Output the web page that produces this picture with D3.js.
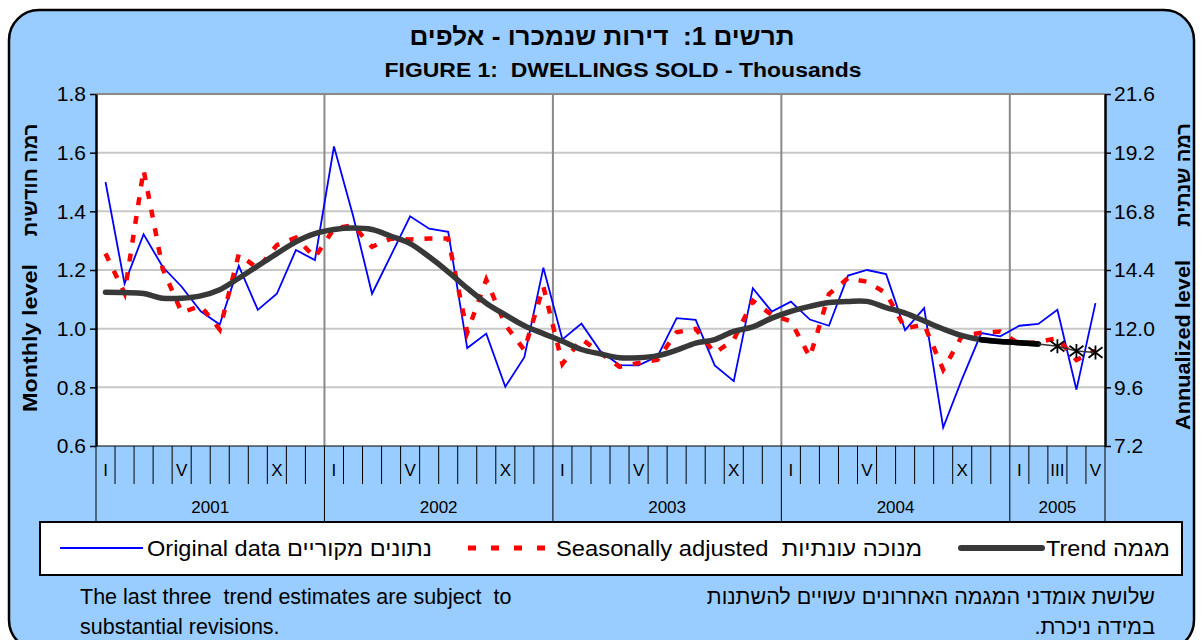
<!DOCTYPE html>
<html><head><meta charset="utf-8">
<script src="https://cdn.jsdelivr.net/npm/d3@7"></script>
<style>
body{margin:0;background:#fff}
svg{display:block}
text{font-family:"Liberation Sans",Arial,"DejaVu Sans",sans-serif;white-space:pre}
</style>
</head><body>
<svg id="c" width="1202" height="640"></svg>
<script>
// ---- data ----
const years = ["2001","2002","2003","2004","2005"];
const monthsPerYear = [12,12,12,12,5];
const monthMarks = ["I","","","","V","","","","","X","",""];
const monthMarks2005 = ["I","","III","","V"];
const leftTicks = [0.6,0.8,1.0,1.2,1.4,1.6,1.8];
const rightTicks = [7.2,9.6,12.0,14.4,16.8,19.2,21.6];

const original = [
 1.500,1.153,1.322,1.211,1.143,1.059,1.014,1.214,1.064,1.119,1.268,1.234,
 1.621,1.386,1.119,1.251,1.383,1.341,1.330,0.934,0.983,0.802,0.903,1.208,
 0.963,1.017,0.923,0.876,0.875,0.906,1.036,1.030,0.875,0.821,1.138,1.058,
 1.092,1.031,1.010,1.181,1.200,1.186,0.995,1.070,0.663,0.830,0.985,0.974,
 1.010,1.016,1.064,0.792,1.087];
const seasonallyAdjusted = [
 1.256,1.121,1.541,1.205,1.055,1.078,0.997,1.254,1.205,1.285,1.310,1.243,
 1.341,1.353,1.279,1.307,1.304,1.307,1.307,0.987,1.167,1.013,0.927,1.143,
 0.880,0.965,0.917,0.870,0.883,0.894,0.988,0.999,0.917,0.962,1.095,1.047,
 1.025,0.903,1.118,1.172,1.160,1.121,1.001,1.014,0.860,0.976,0.986,0.990,
 0.948,0.954,0.968,0.893,0.925];
const trend = [
 1.124,1.123,1.120,1.104,1.104,1.112,1.133,1.172,1.214,1.256,1.296,1.324,
 1.338,1.343,1.338,1.315,1.290,1.245,1.194,1.138,1.087,1.047,1.010,0.983,
 0.957,0.929,0.914,0.901,0.901,0.908,0.927,0.951,0.963,0.991,1.006,1.036,
 1.059,1.076,1.089,1.093,1.093,1.072,1.053,1.026,0.999,0.976,0.962,0.956,
 0.952,0.948];
const trendProvisional = [0.940,0.924,0.919];

// ---- layout ----
const svg = d3.select("#c");
const L=96, R=1105, T=94, B=446;
const nMonths = d3.sum(monthsPerYear);

svg.append("rect").attr("x",9).attr("y",10).attr("width",1185).attr("height",640)
  .attr("rx",30).attr("fill","#99CCFF").attr("stroke","#000").attr("stroke-width",2.5);

const x = d3.scaleBand().domain(d3.range(nMonths)).range([L,R]).padding(0);
const cx = i => x(i) + x.bandwidth()/2;
const xb = k => k >= nMonths ? R : x(k);
const y = d3.scaleLinear().domain([0.6,1.8]).range([B,T]);
const yR = d3.scaleLinear().domain([7.2,21.6]).range([B,T]);

svg.append("rect").attr("x",L).attr("y",T).attr("width",R-L).attr("height",B-T).attr("fill","#fff");

// grid
svg.append("g").selectAll("line").data(leftTicks.slice(1)).join("line")
  .attr("x1",L).attr("x2",R).attr("y1",d=>y(d)).attr("y2",d=>y(d))
  .attr("stroke",d=>d===1.8?"#8a8a8a":"#c8c8c8").attr("stroke-width",2);

const yearStarts = monthsPerYear.map((m,i)=>d3.sum(monthsPerYear.slice(0,i)));
svg.append("g").selectAll("line").data(yearStarts.slice(1)).join("line")
  .attr("x1",d=>xb(d)).attr("x2",d=>xb(d)).attr("y1",T).attr("y2",B)
  .attr("stroke","#8a8a8a").attr("stroke-width",2);

// month / year strip
const boundaries = d3.range(nMonths+1);
const yearBounds = new Set([...yearStarts, nMonths]);
svg.append("g").selectAll("line").data(boundaries).join("line")
  .attr("x1",d=>xb(d)).attr("x2",d=>xb(d)).attr("y1",B)
  .attr("y2",d=>yearBounds.has(d)?522:484)
  .attr("stroke","#000").attr("stroke-width",1);
svg.append("line").attr("x1",L).attr("x2",R).attr("y1",B).attr("y2",B).attr("stroke","#000").attr("stroke-width",1.2);

const marks = [];
years.forEach((yr,yi)=>{
  const arr = yi===4 ? monthMarks2005 : monthMarks;
  arr.forEach((m,mi)=>{ if(m) marks.push({i:yearStarts[yi]+mi, t:m}); });
});
svg.append("g").selectAll("text").data(marks).join("text")
  .attr("x",d=>cx(d.i)).attr("y",476).attr("text-anchor","middle")
  .attr("font-size",17).attr("fill","#000").text(d=>d.t);

svg.append("g").selectAll("text").data(years).join("text")
  .attr("x",(d,i)=>(xb(yearStarts[i])+xb(yearStarts[i]+monthsPerYear[i]))/2)
  .attr("y",513).attr("text-anchor","middle").attr("font-size",17).attr("fill","#000").text(d=>d);

// axes
const ax = svg.append("g").attr("transform",`translate(${L},0)`)
  .call(d3.axisLeft(y).tickValues(leftTicks).tickFormat(d3.format(".1f")).tickSize(6).tickSizeOuter(0).tickPadding(4));
const axR = svg.append("g").attr("transform",`translate(${R},0)`)
  .call(d3.axisRight(yR).tickValues(rightTicks).tickFormat(d3.format(".1f")).tickSize(6).tickSizeOuter(0).tickPadding(3));
[ax,axR].forEach(g=>{
  g.select(".domain").attr("stroke","#000").attr("stroke-width",2.5);
  g.selectAll(".tick line").attr("stroke","#000").attr("stroke-width",1.5);
  g.selectAll(".tick text").attr("font-size",21).attr("fill","#000")
    .attr("font-family","'Liberation Sans',Arial,sans-serif");
});

// series
const line = d3.line().x((d,i)=>cx(i)).y(d=>y(d));
svg.append("path").datum(original).attr("d",line).attr("fill","none")
  .attr("stroke","#0000FF").attr("stroke-width",1.8).attr("stroke-linejoin","miter");
svg.append("path").datum(seasonallyAdjusted).attr("d",line).attr("fill","none")
  .attr("stroke","#FF0000").attr("stroke-width",4.5).attr("stroke-dasharray","8,11");
const tline = d3.line().x(d=>cx(d.i)).y(d=>y(d.v)).curve(d3.curveCatmullRom);
const tdata = trend.map((v,i)=>({i,v}));
svg.append("path").datum(tdata).attr("d",tline).attr("fill","none")
  .attr("stroke","#383838").attr("stroke-width",5.5).attr("stroke-linecap","round");
svg.append("path").datum(tdata.slice(46)).attr("d",tline).attr("fill","none")
  .attr("stroke","#000").attr("stroke-width",5.5).attr("stroke-linecap","round");
const pdata = [tdata[tdata.length-1], ...trendProvisional.map((v,k)=>({i:trend.length+k, v}))];
svg.append("path").datum(pdata).attr("d",d3.line().x(d=>cx(d.i)).y(d=>y(d.v)))
  .attr("fill","none").attr("stroke","#333").attr("stroke-width",1.5);
svg.append("g").selectAll("path").data(pdata.slice(1)).join("path")
  .attr("d",d=>{const X=cx(d.i),Y=y(d.v),s=7;
    return `M${X},${Y-s}L${X},${Y+s}M${X-s},${Y-s*0.75}L${X+s},${Y+s*0.75}M${X-s},${Y+s*0.75}L${X+s},${Y-s*0.75}`;})
  .attr("stroke","#000").attr("stroke-width",1.8).attr("fill","none");

// titles
function fitText(sel, len){ return sel.attr("textLength",len).attr("lengthAdjust","spacingAndGlyphs"); }
fitText(svg.append("text").attr("x",602).attr("y",45).attr("text-anchor","middle").style("direction","rtl")
  .attr("font-size",25).attr("font-weight","bold").attr("fill","#000").text("תרשים 1:  דירות שנמכרו - אלפים"),385);
fitText(svg.append("text").attr("x",623).attr("y",77).attr("text-anchor","middle")
  .attr("font-size",20).attr("font-weight","bold").attr("fill","#000").text("FIGURE 1:  DWELLINGS SOLD - Thousands"),477);

// axis titles
fitText(svg.append("text").attr("transform","translate(37,338) rotate(-90)").attr("text-anchor","middle")
  .attr("font-size",21).attr("font-weight","bold").attr("fill","#000").text("Monthly level"),148);
svg.append("text").attr("transform","translate(37,180) rotate(-90)").attr("text-anchor","middle").style("direction","rtl")
  .attr("font-size",20).attr("font-weight","bold").attr("fill","#000").text("רמה חודשית");
fitText(svg.append("text").attr("transform","translate(1190,345) rotate(-90)").attr("text-anchor","middle")
  .attr("font-size",21).attr("font-weight","bold").attr("fill","#000").text("Annualized level"),170);
svg.append("text").attr("transform","translate(1190,175) rotate(-90)").attr("text-anchor","middle").style("direction","rtl")
  .attr("font-size",20).attr("font-weight","bold").attr("fill","#000").text("רמה שנתית");

// legend
svg.append("rect").attr("x",40).attr("y",522).attr("width",1142).attr("height",53)
  .attr("fill","#fff").attr("stroke","#000").attr("stroke-width",2);
const LY = 548;
svg.append("line").attr("x1",60).attr("x2",143).attr("y1",LY).attr("y2",LY).attr("stroke","#0000FF").attr("stroke-width",2);
svg.append("line").attr("x1",468).attr("x2",548).attr("y1",LY).attr("y2",LY).attr("stroke","#FF0000").attr("stroke-width",5).attr("stroke-dasharray","8,15");
svg.append("line").attr("x1",961).attr("x2",1042).attr("y1",LY).attr("y2",LY).attr("stroke","#383838").attr("stroke-width",6).attr("stroke-linecap","round");
const legTexts = [
  {x:147, w:285, t:"Original data נתונים מקוריים"},
  {x:556, w:366, t:"Seasonally adjusted  מנוכה עונתיות"},
  {x:1046, w:124, t:"Trend מגמה"}];
svg.append("g").selectAll("text").data(legTexts).join("text")
  .attr("x",d=>d.x).attr("y",LY+8).attr("font-size",22).attr("fill","#000")
  .attr("textLength",d=>d.w).attr("lengthAdjust","spacingAndGlyphs").text(d=>d.t);

// footnotes
svg.append("text").attr("x",80).attr("y",604).attr("font-size",21.5).attr("fill","#000").text("The last three  trend estimates are subject  to");
svg.append("text").attr("x",80).attr("y",634).attr("font-size",21.5).attr("fill","#000").text("substantial revisions.");
svg.append("text").attr("x",1155).attr("y",604).attr("font-size",21.5).attr("fill","#000").style("direction","rtl").attr("text-anchor","start").text("שלושת אומדני המגמה האחרונים עשויים להשתנות");
svg.append("text").attr("x",1155).attr("y",634).attr("font-size",21.5).attr("fill","#000").style("direction","rtl").attr("text-anchor","start").text("במידה ניכרת.");
</script>
</body></html>
